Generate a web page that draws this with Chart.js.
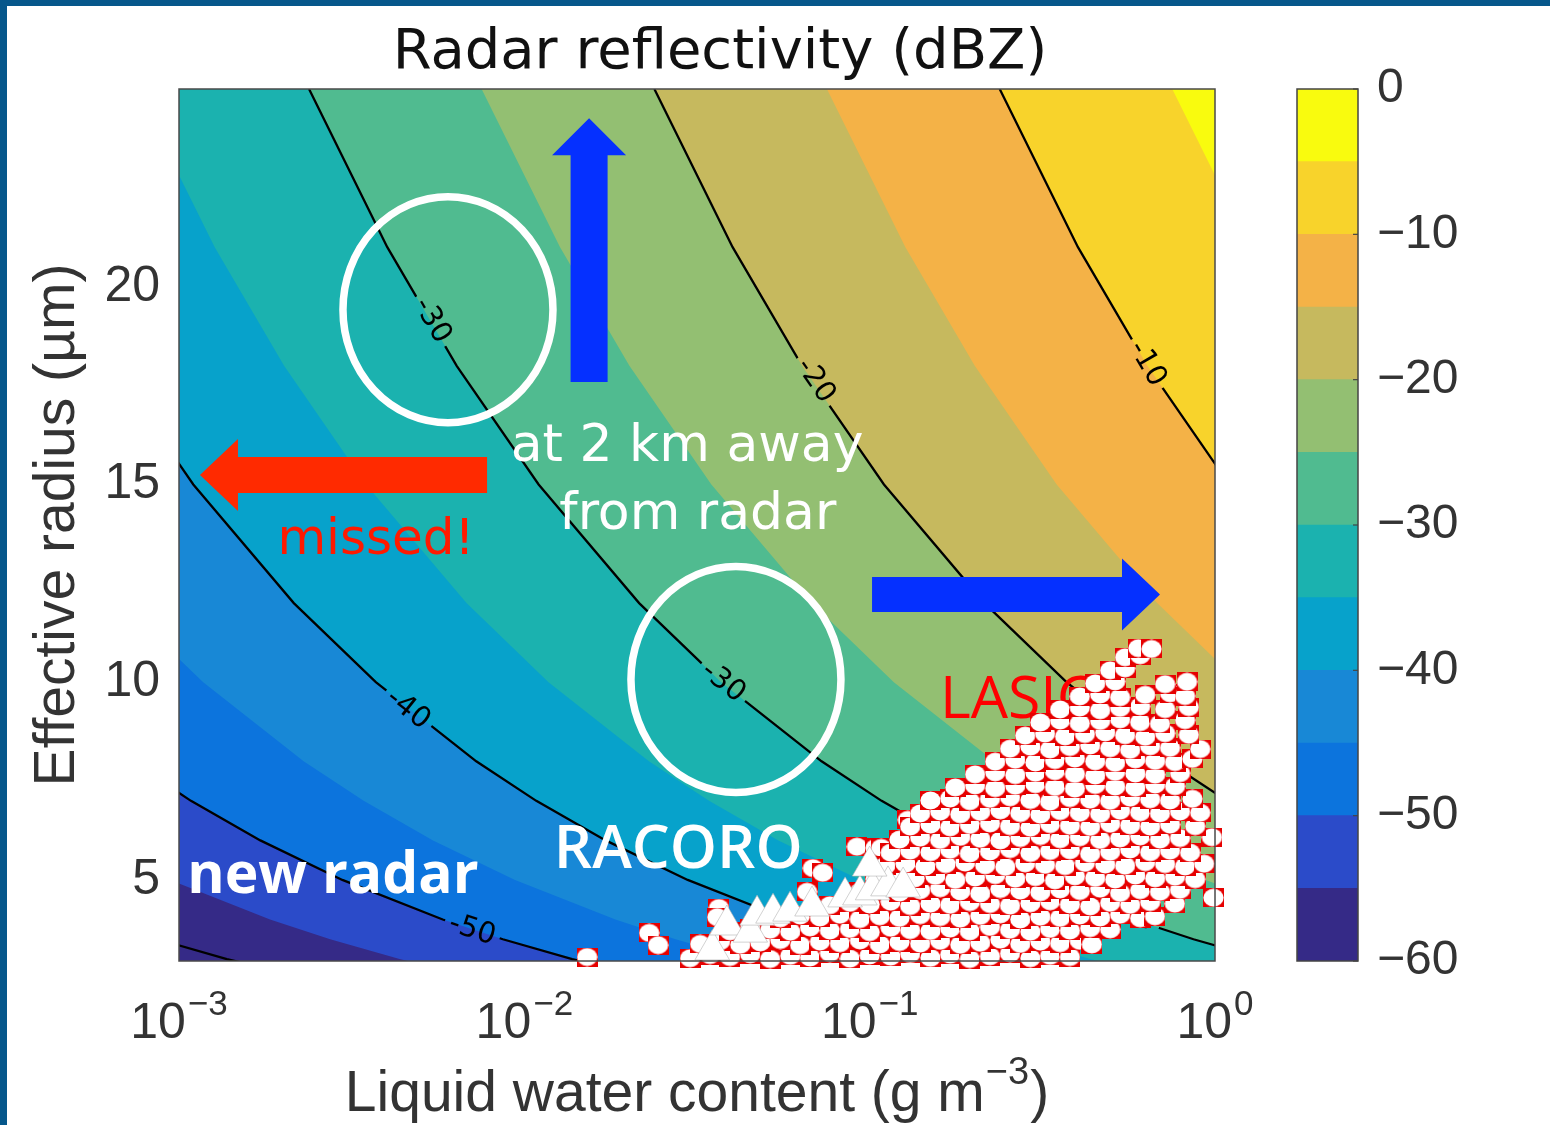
<!DOCTYPE html>
<html>
<head>
<meta charset="utf-8">
<title>Radar reflectivity (dBZ)</title>
<script src="https://cdn.jsdelivr.net/npm/chart.js@4.4.1/dist/chart.umd.min.js"></script>
<style>
  html, body { margin: 0; padding: 0; background: #fff; }
  #page { position: relative; width: 1550px; height: 1125px; overflow: hidden; background: #fff; }
  #main { position: absolute; left: 0; top: 0; }
  #cbar { position: absolute; left: 1280px; top: 0; }
  .strip { position: absolute; background: #06578b; }
</style>
</head>
<body>
<div id="page">
  <canvas id="main" width="1550" height="1125"></canvas>
  <canvas id="cbar" width="270" height="1125"></canvas>
  <div class="strip" style="left:0;top:0;width:7px;height:1125px"></div>
  <div class="strip" style="left:0;top:0;width:1550px;height:6px"></div>
</div>
<script>
// dBZ levels of the filled contours (5 dB bands) and the band colours
const levels = [-60, -55, -50, -45, -40, -35, -30, -25, -20, -15, -10, -5, 0];
const bandColors = ['#352a87', '#2b4bc9', '#0c74dd', '#1888d6', '#07a2cb', '#1bb2af',
                    '#50bb90', '#93bf72', '#c6b95e', '#f4b247', '#f8d32b', '#f9fb0e'];
const lineLevels = [-60, -50, -40, -30, -20, -10];

// effective radius (um) where each contour boundary was read
const contourR = [2.5, 3, 3.5, 4, 5, 6, 7, 8, 10, 12, 15, 18, 21, 25, 28];
// liquid water content (g m-3) of each boundary at those radii
const lwcM60 = [0.002377, 0.001376, 0.0008665, 0.0005804, 0.0002972, 0.000172, 0.0001083, 0.00007257, 0.00003715, 0.0000215, 0.000011, 0.00000637, 0.00000401, 0.00000238, 0.00000169];
const lwcM55 = [0.007518, 0.004351, 0.00274, 0.001835, 0.0009398, 0.0005439, 0.0003425, 0.0002295, 0.0001175, 0.000068, 0.0000348, 0.00002015, 0.00001269, 0.00000752, 0.00000535];
const lwcM50 = [0.02377, 0.01376, 0.008665, 0.005804, 0.002972, 0.00172, 0.001083, 0.0007257, 0.0003715, 0.000215, 0.00011, 0.0000637, 0.0000401, 0.0000238, 0.0000169];
const lwcM45 = [0.07518, 0.04351, 0.0274, 0.01835, 0.009398, 0.005439, 0.003425, 0.002295, 0.001175, 0.00068, 0.000348, 0.0002015, 0.0001269, 0.0000752, 0.0000535];
const lwcM40 = [0.2377, 0.1376, 0.08665, 0.05804, 0.02972, 0.0172, 0.01083, 0.007257, 0.003715, 0.00215, 0.0011, 0.000637, 0.000401, 0.000238, 0.000169];
const lwcM35 = [0.7518, 0.4351, 0.274, 0.1835, 0.09398, 0.05439, 0.03425, 0.02295, 0.01175, 0.0068, 0.00348, 0.002015, 0.001269, 0.000752, 0.000535];
const lwcM30 = [2.377, 1.376, 0.8665, 0.5804, 0.2972, 0.172, 0.1083, 0.07257, 0.03715, 0.0215, 0.011, 0.00637, 0.00401, 0.00238, 0.00169];
const lwcM25 = [7.518, 4.351, 2.74, 1.835, 0.9398, 0.5439, 0.3425, 0.2295, 0.1175, 0.068, 0.0348, 0.02015, 0.01269, 0.00752, 0.00535];
const lwcM20 = [23.77, 13.76, 8.665, 5.804, 2.972, 1.72, 1.083, 0.7257, 0.3715, 0.215, 0.11, 0.0637, 0.0401, 0.0238, 0.0169];
const lwcM15 = [75.18, 43.51, 27.4, 18.35, 9.398, 5.439, 3.425, 2.295, 1.175, 0.68, 0.348, 0.2015, 0.1269, 0.0752, 0.0535];
const lwcM10 = [237.7, 137.6, 86.65, 58.04, 29.72, 17.2, 10.83, 7.257, 3.715, 2.15, 1.1, 0.637, 0.401, 0.238, 0.169];
const lwcM5 = [751.8, 435.1, 274, 183.5, 93.98, 54.39, 34.25, 22.95, 11.75, 6.8, 3.48, 2.015, 1.269, 0.752, 0.535];

// contour labels (level, and the point of the line where the label sits)
const labelLevel = [-50, -40, -30, -30, -20, -10, -30];
const labelLWC = [0.00706, 0.0046, 0.0054, 0.0376, 0.0695, 0.635, 0.579];
const labelR = [3.73, 9.31, 19.14, 9.99, 17.62, 18.05, 4.11];

// axis ticks
const xTickValues = [0.001, 0.01, 0.1, 1];
const xTickExp = ['\u22123', '\u22122', '\u22121', '0'];
const yTickValues = [5, 10, 15, 20];
const cbarTicks = [-60, -50, -40, -30, -20, -10, 0];

// LASIC samples [LWC, re]
const lasicPoints = [
  [0.0152,3.05],[0.0230,3.66],[0.0244,3.35],[0.0366,4.29],[0.0362,4.06],[0.0659,4.70],[0.0685,5.30],
  [0.0731,5.18],[0.0919,5.84],[0.104,5.81],[0.108,5.81],[0.129,6.52],[0.990,4.55],
  [0.0302,3.02],[0.0345,3.10],[0.0394,3.05],[0.0451,3.12],[0.0515,3.00],[0.0589,3.08],[0.0672,3.04],
  [0.0767,3.15],[0.0877,3.01],[0.100,3.09],[0.115,3.06],[0.131,3.13],[0.150,3.03],[0.171,3.11],
  [0.195,3.00],[0.223,3.07],[0.255,3.14],[0.292,3.02],[0.333,3.08],[0.380,3.05],
  [0.0323,3.38],[0.0369,3.45],[0.0422,3.36],[0.0482,3.42],[0.0551,3.48],[0.0629,3.35],[0.0718,3.44],
  [0.0820,3.40],[0.0937,3.47],[0.107,3.37],[0.122,3.43],[0.140,3.39],[0.160,3.46],[0.183,3.36],
  [0.209,3.41],[0.239,3.49],[0.273,3.38],[0.312,3.44],[0.356,3.40],[0.406,3.46],[0.440,3.37],
  [0.0394,3.70],[0.0451,3.78],[0.0515,3.74],[0.0589,3.69],[0.0672,3.80],[0.0767,3.72],[0.0877,3.76],
  [0.100,3.68],[0.115,3.79],[0.131,3.73],[0.150,3.71],[0.171,3.77],[0.195,3.70],[0.223,3.81],
  [0.255,3.74],[0.292,3.69],[0.333,3.76],[0.380,3.72],[0.435,3.78],[0.497,3.75],
  [0.0551,4.03],[0.0629,4.10],[0.0718,4.05],[0.0820,4.12],[0.0937,4.01],[0.107,4.08],[0.122,4.04],
  [0.140,4.11],[0.160,4.06],[0.183,4.02],[0.209,4.09],[0.239,4.13],[0.273,4.00],[0.312,4.07],
  [0.356,4.04],[0.406,4.10],[0.465,4.05],[0.531,4.12],[0.607,4.03],[0.670,4.08],
  [0.0767,4.36],[0.0877,4.42],[0.100,4.38],[0.115,4.45],[0.131,4.34],[0.150,4.40],[0.171,4.37],
  [0.195,4.44],[0.223,4.39],[0.255,4.35],[0.292,4.41],[0.333,4.46],[0.380,4.38],[0.435,4.33],
  [0.497,4.42],[0.568,4.37],[0.649,4.44],[0.765,4.40],
  [0.0937,4.70],[0.107,4.75],[0.122,4.68],[0.140,4.74],[0.160,4.79],[0.183,4.71],[0.209,4.66],
  [0.239,4.77],[0.273,4.73],[0.312,4.69],[0.356,4.76],[0.406,4.72],[0.465,4.78],[0.531,4.67],
  [0.607,4.74],[0.693,4.70],[0.792,4.75],
  [0.104,5.02],[0.119,5.08],[0.135,5.04],[0.155,5.10],[0.177,5.00],[0.202,5.06],[0.231,5.12],
  [0.264,5.03],[0.302,5.07],[0.344,4.99],[0.393,5.09],[0.450,5.05],[0.514,5.01],[0.588,5.11],
  [0.671,5.04],[0.766,5.08],[0.876,5.02],
  [0.111,5.36],[0.127,5.41],[0.145,5.34],[0.166,5.40],[0.189,5.44],[0.216,5.37],[0.247,5.33],
  [0.282,5.42],[0.322,5.38],[0.368,5.35],[0.420,5.43],[0.481,5.39],[0.549,5.36],[0.628,5.45],
  [0.717,5.40],[0.819,5.34],[0.930,5.41],
  [0.115,5.69],[0.131,5.74],[0.150,5.70],[0.171,5.76],[0.195,5.67],[0.223,5.72],[0.255,5.78],
  [0.292,5.68],[0.333,5.73],[0.380,5.75],[0.435,5.66],[0.497,5.71],[0.568,5.77],[0.649,5.70],
  [0.741,5.74],[0.847,5.69],
  [0.122,6.02],[0.140,6.07],[0.160,6.01],[0.183,6.09],[0.209,6.04],[0.239,6.00],[0.273,6.06],
  [0.312,6.11],[0.356,6.03],[0.406,6.08],[0.465,6.01],[0.531,6.05],[0.607,6.10],[0.693,6.02],
  [0.792,6.06],[0.980,6.08],
  [0.131,6.35],[0.150,6.40],[0.171,6.33],[0.195,6.39],[0.223,6.43],[0.255,6.36],[0.292,6.32],
  [0.333,6.41],[0.380,6.37],[0.435,6.34],[0.497,6.42],[0.568,6.38],[0.649,6.35],[0.741,6.40],[0.876,6.36],
  [0.140,6.68],[0.160,6.73],[0.183,6.66],[0.209,6.72],[0.239,6.76],[0.273,6.69],[0.312,6.65],
  [0.356,6.74],[0.406,6.70],[0.465,6.67],[0.531,6.75],[0.607,6.71],[0.693,6.68],[0.792,6.73],[0.906,6.70],
  [0.150,7.01],[0.171,7.06],[0.195,6.99],[0.223,7.05],[0.255,7.09],[0.292,7.02],[0.333,6.98],
  [0.380,7.07],[0.435,7.03],[0.497,7.00],[0.568,7.08],[0.649,7.04],[0.741,7.01],[0.860,7.05],
  [0.177,7.34],[0.202,7.39],[0.231,7.32],[0.264,7.38],[0.302,7.42],[0.344,7.35],[0.393,7.31],
  [0.450,7.40],[0.514,7.36],[0.588,7.33],[0.671,7.41],[0.766,7.37],
  [0.202,7.67],[0.231,7.72],[0.264,7.65],[0.302,7.71],[0.344,7.75],[0.393,7.68],[0.450,7.64],
  [0.514,7.73],[0.588,7.69],[0.671,7.66],[0.792,7.70],
  [0.231,7.99],[0.264,8.04],[0.302,7.97],[0.344,8.03],[0.393,8.07],[0.450,8.00],[0.514,7.96],
  [0.588,8.05],[0.671,8.01],[0.766,7.98],[0.860,8.06],
  [0.255,8.32],[0.292,8.37],[0.333,8.30],[0.380,8.36],[0.435,8.40],[0.497,8.33],[0.568,8.29],
  [0.649,8.38],[0.741,8.34],[0.906,8.31],
  [0.282,8.65],[0.322,8.70],[0.368,8.63],[0.420,8.69],[0.481,8.73],[0.549,8.66],[0.628,8.62],
  [0.717,8.71],[0.840,8.67],
  [0.312,8.98],[0.356,9.03],[0.406,8.96],[0.465,9.02],[0.531,9.06],[0.607,8.99],[0.693,8.95],[0.819,9.04],
  [0.356,9.31],[0.406,9.36],[0.465,9.29],[0.531,9.35],[0.607,9.39],[0.717,9.32],[0.840,9.37],
  [0.406,9.64],[0.465,9.69],[0.531,9.62],[0.628,9.68],[0.741,9.72],[0.819,9.65],
  [0.450,9.97],[0.514,10.02],[0.717,9.95],[0.830,10.01],
  [0.497,10.30],[0.549,10.35],[0.549,10.63],[0.607,10.68],[0.600,10.86],[0.655,10.84]
];

// RACORO samples [LWC, re]
const racoroPoints = [
  [0.0350,3.23],[0.0386,3.86],[0.0451,3.68],[0.0472,4.11],[0.0525,4.16],[0.0588,4.21],[0.0681,4.34],
  [0.0849,4.57],[0.0937,4.62],[0.102,4.75],[0.113,4.85],[0.125,4.82],[0.100,5.35]
];

// ---- overlay annotations (anchored in data units, sizes in px) ----
const rings = [
  { lwc: 0.00601, r: 19.42, rx: 105, ry: 113 },
  { lwc: 0.0410, r: 10.07, rx: 105, ry: 113 }
];
const arrows = [
  { from: [0.0154, 17.59], to: [0.0154, 24.26], shaft: 37, head: 74, headLen: 37, color: '#0530ff' },
  { from: [0.1016, 12.22], to: [0.693, 12.22], shaft: 35, head: 72, headLen: 38, color: '#0530ff' },
  { from: [0.0078, 15.24], to: [0.00115, 15.24], shaft: 36, head: 72, headLen: 38, color: '#ff2a00' }
];
const notes = [
  { text: 'at 2 km away', lwc: 0.0296, r: 15.59, font: '52px "DejaVu Sans"', color: '#ffffff' },
  { text: 'from radar', lwc: 0.0318, r: 13.87, font: '52px "DejaVu Sans"', color: '#ffffff' },
  { text: 'missed!', lwc: 0.00372, r: 13.23, font: '50px "DejaVu Sans"', color: '#ff1a00' },
  { text: 'new radar', lwc: 0.00279, r: 4.67, font: 'bold 57px "Open Sans", "DejaVu Sans"', color: '#ffffff' },
  { text: 'RACORO', lwc: 0.0279, r: 5.30, font: '600 60px "Open Sans", "DejaVu Sans"', color: '#ffffff' },
  { text: 'LASIC', lwc: 0.267, r: 9.10, font: '59px "Open Sans", "DejaVu Sans"', color: '#ff0000' }
];

const axisFont = '"Liberation Sans", Arial, sans-serif';
const textColor = '#333333';

const boundaryLWC = {
  '-60': lwcM60, '-55': lwcM55, '-50': lwcM50, '-45': lwcM45, '-40': lwcM40, '-35': lwcM35,
  '-30': lwcM30, '-25': lwcM25, '-20': lwcM20, '-15': lwcM15, '-10': lwcM10, '-5': lwcM5
};

function boundaryData(lv) {
  return contourR.map((r, k) => ({ x: boundaryLWC[lv][k], y: r }));
}

// marker used for the LASIC points: red square with a white disc
function makeLasicMarker() {
  const c = document.createElement('canvas');
  c.width = 21; c.height = 19;
  const g = c.getContext('2d');
  g.fillStyle = '#e60000';
  g.fillRect(0, 0, 21, 19);
  g.fillStyle = '#ffffff';
  g.beginPath();
  g.ellipse(10.5, 9.5, 10.1, 9.0, 0, 0, Math.PI * 2);
  g.fill();
  return c;
}

// filled bands: everything right of a boundary gets the colour of the band above it
const fillSets = levels.slice(1, -1).map((lv, i) => ({
  label: 'band ' + lv,
  data: boundaryData(lv),
  borderWidth: 0,
  pointRadius: 0,
  fill: { value: 1 },
  backgroundColor: bandColors[i + 1],
  order: 100 - lv,
  clip: 0
}));

const lineSets = lineLevels.map(lv => ({
  label: 'contour ' + lv,
  contour: lv,
  data: boundaryData(lv),
  borderColor: '#000000',
  borderWidth: 2.3,
  pointRadius: 0,
  fill: false,
  order: 50,
  clip: 0
}));

const markerSets = [
  {
    label: 'LASIC',
    data: lasicPoints.map(p => ({ x: p[0], y: p[1] })),
    showLine: false,
    pointStyle: makeLasicMarker(),
    pointRadius: 10,
    order: 20,
    clip: false
  },
  {
    label: 'RACORO',
    data: racoroPoints.map(p => ({ x: p[0], y: p[1] })),
    showLine: false,
    pointStyle: 'triangle',
    pointRadius: 20,
    pointBackgroundColor: '#ffffff',
    pointBorderColor: '#b4b4b4',
    pointBorderWidth: 0.6,
    order: 10,
    clip: false
  }
];

function rotRect(ctx, cx, cy, w, h, ang) {
  const c = Math.cos(ang), s = Math.sin(ang);
  [[-w / 2, -h / 2], [w / 2, -h / 2], [w / 2, h / 2], [-w / 2, h / 2]].forEach(([u, v], i) => {
    const x = cx + u * c - v * s, y = cy + u * s + v * c;
    if (i) ctx.lineTo(x, y); else ctx.moveTo(x, y);
  });
  ctx.closePath();
}

// direction of the contour line near a label
function labelAngle(meta, px, py) {
  let best = Infinity, ang = 0;
  const pts = meta.data;
  for (let i = 0; i < pts.length - 1; i++) {
    const a = pts[i], b = pts[i + 1];
    const dx = b.x - a.x, dy = b.y - a.y;
    const len2 = dx * dx + dy * dy;
    let t = len2 ? ((px - a.x) * dx + (py - a.y) * dy) / len2 : 0;
    t = Math.max(0, Math.min(1, t));
    const d = Math.hypot(a.x + t * dx - px, a.y + t * dy - py);
    if (d < best) { best = d; ang = Math.atan2(dy, dx); }
  }
  if (ang > Math.PI / 2) ang -= Math.PI;
  if (ang < -Math.PI / 2) ang += Math.PI;
  return ang;
}

function labelsFor(chart, meta, lv) {
  const xs = chart.scales.x, ys = chart.scales.y;
  const out = [];
  labelLevel.forEach((l, i) => {
    if (l !== lv) return;
    const px = xs.getPixelForValue(labelLWC[i]);
    const py = ys.getPixelForValue(labelR[i]);
    out.push({ text: String(l), x: px, y: py, ang: labelAngle(meta, px, py) });
  });
  return out;
}

function drawArrow(ctx, x0, y0, x1, y1, shaft, head, headLen, color) {
  const L = Math.hypot(x1 - x0, y1 - y0);
  const ux = (x1 - x0) / L, uy = (y1 - y0) / L, nx = -uy, ny = ux;
  const bx = x1 - ux * headLen, by = y1 - uy * headLen;
  ctx.beginPath();
  ctx.moveTo(x0 + nx * shaft / 2, y0 + ny * shaft / 2);
  ctx.lineTo(bx + nx * shaft / 2, by + ny * shaft / 2);
  ctx.lineTo(bx + nx * head / 2, by + ny * head / 2);
  ctx.lineTo(x1, y1);
  ctx.lineTo(bx - nx * head / 2, by - ny * head / 2);
  ctx.lineTo(bx - nx * shaft / 2, by - ny * shaft / 2);
  ctx.lineTo(x0 - nx * shaft / 2, y0 - ny * shaft / 2);
  ctx.closePath();
  ctx.fillStyle = color;
  ctx.fill();
}

function drawAnnotations(chart) {
  const { ctx } = chart;
  const xs = chart.scales.x, ys = chart.scales.y;
  const P = (lwc, r) => [xs.getPixelForValue(lwc), ys.getPixelForValue(r)];
  ctx.save();
  ctx.strokeStyle = '#ffffff';
  ctx.lineWidth = 7.5;
  rings.forEach(g => {
    const [cx, cy] = P(g.lwc, g.r);
    ctx.beginPath();
    ctx.ellipse(cx, cy, g.rx, g.ry, 0, 0, Math.PI * 2);
    ctx.stroke();
  });
  arrows.forEach(a => {
    const [x0, y0] = P(a.from[0], a.from[1]);
    const [x1, y1] = P(a.to[0], a.to[1]);
    drawArrow(ctx, x0, y0, x1, y1, a.shaft, a.head, a.headLen, a.color);
  });
  ctx.textAlign = 'center';
  ctx.textBaseline = 'alphabetic';
  notes.forEach(n => {
    const [x, y] = P(n.lwc, n.r);
    ctx.font = n.font;
    ctx.fillStyle = n.color;
    ctx.fillText(n.text, x, y);
  });
  ctx.restore();
}

const labelFont = '29px "DejaVu Sans"';

const contourPlugin = {
  id: 'contourPlugin',
  beforeDraw(chart) {
    const { ctx, chartArea: a } = chart;
    ctx.save();
    ctx.fillStyle = bandColors[0];
    ctx.fillRect(a.left, a.top, a.right - a.left, a.bottom - a.top);
    ctx.restore();
  },
  beforeDatasetDraw(chart, args) {
    const ds = chart.data.datasets[args.index];
    const ctx = chart.ctx;
    if (ds.contour !== undefined) {
      // break the contour line where its labels go
      ctx.save();
      ctx.beginPath();
      ctx.rect(0, 0, chart.width, chart.height);
      ctx.font = labelFont;
      labelsFor(chart, args.meta, ds.contour).forEach(l => {
        rotRect(ctx, l.x, l.y, ctx.measureText(l.text).width + 10, 24, l.ang);
      });
      ctx.clip('evenodd');
    }
    if (ds.label === 'LASIC') drawAnnotations(chart);
  },
  afterDatasetDraw(chart, args) {
    const ds = chart.data.datasets[args.index];
    if (ds.contour === undefined) return;
    const ctx = chart.ctx;
    ctx.restore();
    ctx.save();
    ctx.font = labelFont;
    ctx.fillStyle = '#000000';
    ctx.textAlign = 'center';
    ctx.textBaseline = 'middle';
    labelsFor(chart, args.meta, ds.contour).forEach(l => {
      ctx.save();
      ctx.translate(l.x, l.y);
      ctx.rotate(l.ang);
      ctx.fillText(l.text, 0, 0);
      ctx.restore();
    });
    ctx.restore();
  },
  afterDraw(chart) {
    const { ctx, chartArea: a } = chart;
    const xs = chart.scales.x;
    ctx.save();
    // plot frame
    ctx.strokeStyle = '#4a4a4a';
    ctx.lineWidth = 1.5;
    ctx.strokeRect(a.left, a.top, a.right - a.left, a.bottom - a.top);

    // x tick labels 10^n
    ctx.fillStyle = textColor;
    ctx.textAlign = 'left';
    ctx.textBaseline = 'alphabetic';
    xTickValues.forEach((v, i) => {
      ctx.font = '50px ' + axisFont;
      const w1 = ctx.measureText('10').width;
      ctx.font = '35px ' + axisFont;
      const w2 = ctx.measureText(xTickExp[i]).width;
      const x0 = xs.getPixelForValue(v) - (w1 + 2 + w2) / 2;
      ctx.font = '50px ' + axisFont;
      ctx.fillText('10', x0, a.bottom + 77);
      ctx.font = '35px ' + axisFont;
      ctx.fillText(xTickExp[i], x0 + w1 + 2, a.bottom + 54);
    });

    // x axis title with superscript
    const main = 'Liquid water content (g m', sup = '\u22123', tail = ')';
    ctx.font = '57px ' + axisFont;
    const wm = ctx.measureText(main).width, wt = ctx.measureText(tail).width;
    ctx.font = '38px ' + axisFont;
    const ws = ctx.measureText(sup).width;
    let tx = (a.left + a.right) / 2 - (wm + ws + 2 + wt) / 2;
    const ty = a.bottom + 150;
    ctx.font = '57px ' + axisFont;
    ctx.fillText(main, tx, ty);
    ctx.font = '38px ' + axisFont;
    ctx.fillText(sup, tx + wm + 1, ty - 27);
    ctx.font = '57px ' + axisFont;
    ctx.fillText(tail, tx + wm + ws + 2, ty);

    // chart title
    ctx.fillStyle = '#111111';
    ctx.textAlign = 'center';
    ctx.font = '56px "DejaVu Sans"';
    ctx.fillText('Radar reflectivity (dBZ)', 720, 68);
    ctx.restore();
  }
};

new Chart(document.getElementById('main'), {
  type: 'line',
  data: { datasets: [...fillSets, ...lineSets, ...markerSets] },
  options: {
    indexAxis: 'y',
    responsive: false,
    animation: false,
    devicePixelRatio: 1,
    events: [],
    layout: { padding: { left: 0, top: 89, right: 335, bottom: 0 } },
    elements: { line: { tension: 0, capBezierPoints: false } },
    scales: {
      x: {
        type: 'logarithmic',
        position: 'bottom',
        min: 0.001,
        max: 1,
        afterFit(s) { s.height = 164; },
        afterBuildTicks(s) { s.ticks = xTickValues.map(v => ({ value: v })); },
        ticks: { display: false },
        grid: { display: false, drawTicks: false },
        border: { display: false }
      },
      y: {
        type: 'linear',
        position: 'left',
        min: 2.95,
        max: 25,
        afterFit(s) { s.width = 179; },
        afterBuildTicks(s) { s.ticks = yTickValues.map(v => ({ value: v })); },
        ticks: { padding: 19, color: textColor, font: { family: axisFont, size: 50 } },
        grid: { display: false, drawTicks: false },
        border: { display: false },
        title: {
          display: true,
          text: 'Effective radius (\u00b5m)',
          color: textColor,
          font: { family: axisFont, size: 57 },
          padding: { top: 24, bottom: 0 }
        }
      }
    },
    plugins: {
      legend: { display: false },
      tooltip: { enabled: false },
      filler: { drawTime: 'beforeDatasetDraw' }
    }
  },
  plugins: [contourPlugin]
});

// ---- colour bar ----
const cbarFrame = {
  id: 'cbarFrame',
  afterDraw(chart) {
    const { ctx, chartArea: a } = chart;
    const ys = chart.scales.y;
    ctx.save();
    ctx.strokeStyle = '#444444';
    ctx.lineWidth = 1.5;
    ctx.strokeRect(a.left, a.top, a.right - a.left, a.bottom - a.top);
    ctx.lineWidth = 1.2;
    cbarTicks.forEach(v => {
      const y = ys.getPixelForValue(v);
      ctx.beginPath();
      ctx.moveTo(a.right - 5, y);
      ctx.lineTo(a.right, y);
      ctx.stroke();
    });
    ctx.restore();
  }
};

new Chart(document.getElementById('cbar'), {
  type: 'bar',
  data: {
    labels: ['dBZ'],
    datasets: bandColors.map((c, i) => ({
      label: levels[i] + ' to ' + levels[i + 1],
      data: [[levels[i], levels[i + 1]]],
      backgroundColor: c,
      borderWidth: 0,
      barPercentage: 1,
      categoryPercentage: 1,
      grouped: false
    }))
  },
  options: {
    responsive: false,
    animation: false,
    devicePixelRatio: 1,
    events: [],
    layout: { padding: { left: 17, top: 89, bottom: 164, right: 0 } },
    scales: {
      x: { display: false },
      y: {
        position: 'right',
        min: -60,
        max: 0,
        afterFit(s) { s.width = 192; },
        afterBuildTicks(s) { s.ticks = cbarTicks.map(v => ({ value: v })); },
        ticks: {
          padding: 19,
          color: textColor,
          font: { family: axisFont, size: 48 },
          callback: v => String(v).replace('-', '\u2212')
        },
        grid: { display: false, drawTicks: false },
        border: { display: false }
      }
    },
    plugins: { legend: { display: false }, tooltip: { enabled: false } }
  },
  plugins: [cbarFrame]
});
</script>
</body>
</html>
